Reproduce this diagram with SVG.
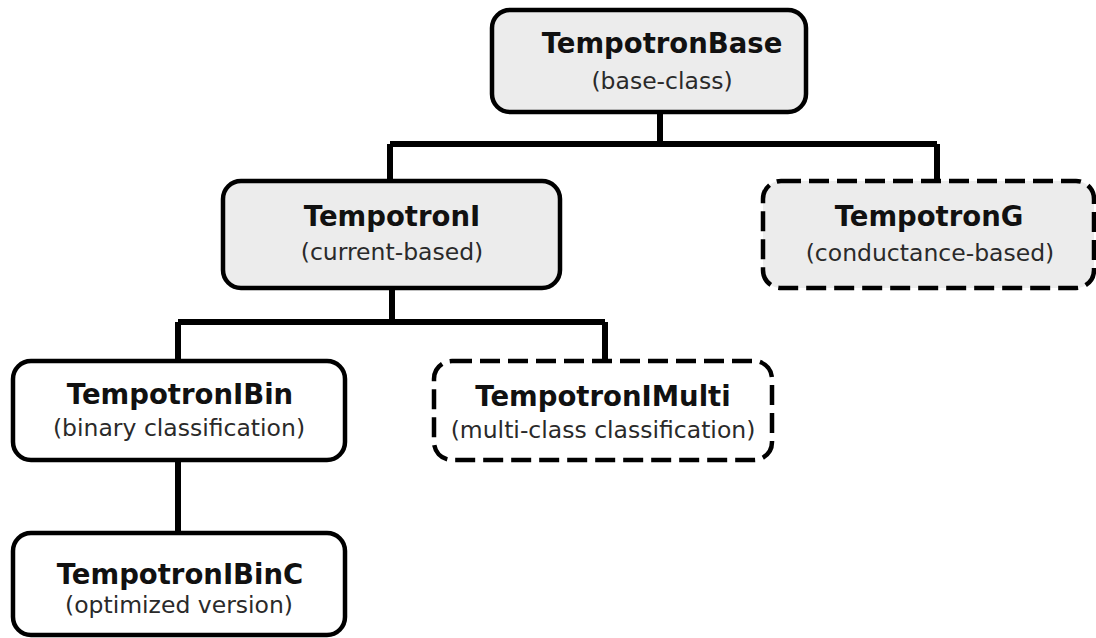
<svg xmlns="http://www.w3.org/2000/svg" width="1096" height="638" viewBox="0 0 1096 638">
<style>
.box{stroke:#000;stroke-width:4.5;}
.gray{fill:#ececec;}
.white{fill:#fff;}
.dash{stroke-dasharray:20 8;}
.t{font-family:"DejaVu Sans",sans-serif;font-weight:bold;font-size:27.5px;fill:#111;text-anchor:middle;}
.s{font-family:"DejaVu Sans",sans-serif;font-size:23.5px;fill:#2a2a2a;text-anchor:middle;}
.c{stroke:#000;stroke-width:6;fill:none;}
</style>
<rect width="1096" height="638" fill="#fff"/>
<g id="connectors">
<path class="c" d="M660 112 V144 M390 144 H937 M390 144 V180 M937 144 V180"/>
<path class="c" d="M392 288 V322 M178 322 H605 M178 322 V360 M605 322 V360"/>
<path class="c" d="M178 460 V532"/>
</g>
<g id="TempotronBase">
<rect class="box gray" x="492" y="10" width="314" height="102" rx="18"/>
<text class="t" x="662" y="53">TempotronBase</text>
<text class="s" x="662" y="89">(base-class)</text>
</g>
<g id="TempotronI">
<rect class="box gray" x="223" y="181" width="337" height="107" rx="18"/>
<text class="t" x="392" y="226">TempotronI</text>
<text class="s" x="392" y="260">(current-based)</text>
</g>
<g id="TempotronG">
<rect class="box gray dash" x="763" y="181" width="331" height="107" rx="18"/>
<text class="t" x="929" y="226">TempotronG</text>
<text class="s" x="930" y="261">(conductance-based)</text>
</g>
<g id="TempotronIBin">
<rect class="box white" x="13" y="361" width="332" height="99" rx="18"/>
<text class="t" x="180" y="404">TempotronIBin</text>
<text class="s" x="179" y="436">(binary classification)</text>
</g>
<g id="TempotronIMulti">
<rect class="box white dash" x="434" y="361" width="338" height="99" rx="18"/>
<text class="t" x="603" y="406">TempotronIMulti</text>
<text class="s" x="603" y="438">(multi-class classification)</text>
</g>
<g id="TempotronIBinC">
<rect class="box white" x="13" y="533" width="332" height="102" rx="18"/>
<text class="t" x="180" y="584">TempotronIBinC</text>
<text class="s" x="179" y="613">(optimized version)</text>
</g>
</svg>
